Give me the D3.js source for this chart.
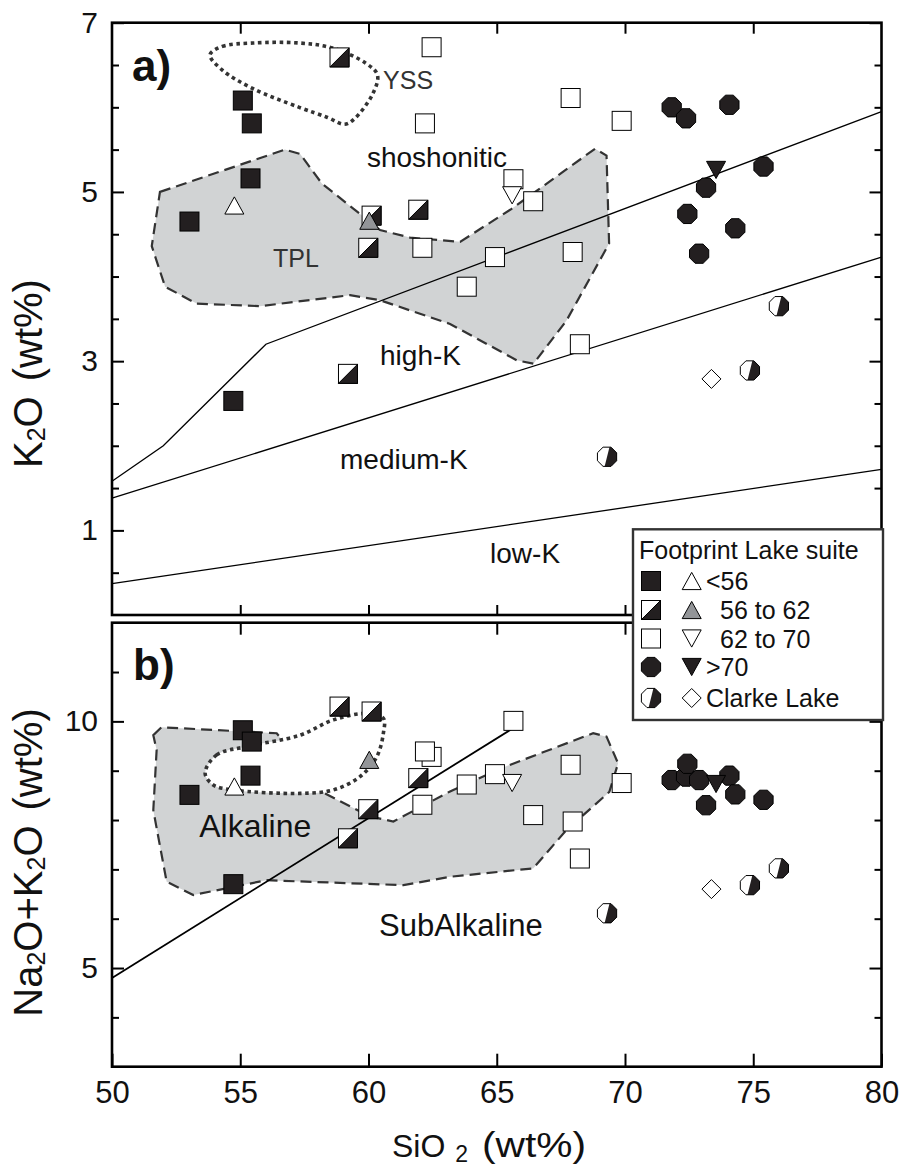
<!DOCTYPE html>
<html><head><meta charset="utf-8">
<script src="https://cdn.jsdelivr.net/npm/d3@7"></script>
<style>
html,body{margin:0;padding:0;background:#fff;}
svg{display:block;font-family:"Liberation Sans",Arial,Helvetica,sans-serif;}
</style></head><body>
<svg id="chart" width="906" height="1169"></svg>
<script>
// ---------------- DATA ----------------
const xDomain = [50, 80];
const yDomainA = [0, 7];
const yDomainB = [3, 12];
const xTickValues = [50, 55, 60, 65, 70, 75, 80];
const xInnerTicks = [55, 60, 65, 70, 75];
const k2oMajorTicks = [1, 3, 5, 7];
const k2oMinorTicks = [0.5, 1.5, 2, 2.5, 3.5, 4, 4.5, 5.5, 6, 6.5];
const alkMajorTicks = [5, 10];
const alkMinorTicks = [4, 6, 7, 8, 9, 11];

// Footprint Lake suite: <56 (black squares)
const lt56_SiO2 = [55.10, 55.45, 55.40, 53.02, 54.73];
const lt56_K2O  = [6.08, 5.81, 5.16, 4.65, 2.53];
const lt56_Alk  = [9.82, 9.59, 8.90, 8.51, 6.70];
// 56 to 62 (half squares)
const mid_SiO2 = [58.87, 60.12, 59.99, 59.20, 61.94];
const mid_K2O  = [6.59, 4.72, 4.34, 2.85, 4.79];
const mid_Alk  = [10.30, 10.20, 8.22, 7.63, 8.85];
// 62 to 70 (open squares)
const int_SiO2 = [62.46, 62.20, 62.10, 67.88, 69.87, 65.65, 66.42, 64.93, 63.83, 67.96, 68.24];
const int_K2O  = [6.71, 5.81, 4.34, 6.11, 5.84, 5.15, 4.89, 4.23, 3.88, 4.29, 3.20];
const int_Alk  = [9.28, 9.39, 8.31, 9.12, 8.75, 10.01, 8.10, 8.93, 8.72, 7.97, 7.22];
// >70 (black octagons)
const hi_SiO2 = [71.82, 72.38, 74.07, 75.40, 73.16, 72.43, 74.30, 72.89];
const hi_K2O  = [6.00, 5.87, 6.03, 5.30, 5.05, 4.74, 4.57, 4.27];
const hi_Alk  = [8.81, 8.88, 8.90, 8.41, 8.30, 9.14, 8.52, 8.81];
// triangles: <56 open up, 56-62 grey up, 62-70 open down, >70 black down
const triOpenUp_SiO2 = [54.77], triOpenUp_K2O = [4.84], triOpenUp_Alk = [8.68];
const triGrey_SiO2 = [60.03], triGrey_K2O = [4.66], triGrey_Alk = [9.22];
const triOpenDown_SiO2 = [65.60], triOpenDown_K2O = [4.96], triOpenDown_Alk = [8.75];
const triBlackDown_SiO2 = [73.55], triBlackDown_K2O = [5.26], triBlackDown_Alk = [8.73];
// Clarke Lake
const clarkeHalf_SiO2 = [76.00, 74.87, 69.30];
const clarkeHalf_K2O  = [3.65, 2.89, 1.87];
const clarkeHalf_Alk  = [7.02, 6.68, 6.11];
const clarkeDia_SiO2 = [73.37], clarkeDia_K2O = [2.79], clarkeDia_Alk = [6.60];

// Boundary lines (panel a)
const shoLine_SiO2 = [50, 52, 56, 80];
const shoLine_K2O  = [1.58, 2.00, 3.20, 5.95];
const highKLine_SiO2 = [50, 80];
const highKLine_K2O  = [1.38, 4.23];
const lowKLine_SiO2 = [50, 80];
const lowKLine_K2O  = [0.37, 1.72];
// Alkaline / subalkaline line (panel b)
const alkLine_SiO2 = [50, 65.6];
const alkLine_Alk  = [4.80, 9.85];

// Fields
const tplA_SiO2 = [51.87,56.74,57.33,58.18,60.45,61.62,63.57,65.58,68.83,69.28,69.38,67.72,66.43,65.78,63.18,60.45,59.28,55.77,53.30,52.07,51.55];
const tplA_K2O  = [5.00,5.50,5.45,5.10,4.55,4.46,4.41,4.80,5.51,5.43,4.39,3.48,2.97,3.01,3.44,3.72,3.78,3.65,3.68,3.88,4.36];
const yssA_SiO2 = [53.82,54.30,55.50,57.30,58.60,59.90,60.35,60.15,59.40,59.05,58.40,57.30,55.50,54.30];
const yssA_K2O  = [6.62,6.72,6.76,6.76,6.70,6.52,6.38,6.15,5.85,5.80,5.88,6.00,6.22,6.44];
const tplB_SiO2 = [51.61,51.93,56.42,58.30,60.06,60.97,63.18,65.32,68.76,69.28,69.73,69.39,67.72,66.42,63.18,61.36,56.02,53.17,52.13,51.61,51.74];
const tplB_Alk  = [9.72,9.88,9.76,8.54,8.07,7.97,8.58,9.08,9.76,9.69,9.15,8.57,7.80,7.02,6.85,6.68,6.78,6.48,6.75,8.20,9.42];
const yssB_SiO2 = [53.63,54.08,55.25,57.33,58.63,59.93,60.58,60.58,60.32,59.67,58.63,57.33,54.73,53.95];
const yssB_Alk  = [8.95,9.32,9.49,9.72,10.03,10.16,10.06,9.76,9.28,8.88,8.61,8.54,8.61,8.71];

const legendTitle = "Footprint Lake suite";
const legendLabels = ["<56", "56 to 62", "62 to 70", ">70", "Clarke Lake"];

// ---------------- STYLE ----------------
const BLACK = "#231f20", GREY_TRI = "#939598", GREY_FIELD = "#d1d3d4", DARK = "#333";
const X0 = 112, X1 = 881.5;
const A_TOP = 22.7, A_BOT = 615, B_TOP = 622.7, B_BOT = 1066.7;

const svg = d3.select("#chart");
const x = d3.scaleLinear().domain(xDomain).range([X0, X1]);
const yA = d3.scaleLinear().domain(yDomainA).range([A_BOT, A_TOP]);
const yB = d3.scaleLinear().domain(yDomainB).range([B_BOT, B_TOP]);

const R = 10.4;
const octPts = d3.range(8).map(i => {
  const a = (22.5 + 45 * i) * Math.PI / 180;
  return [R * Math.cos(a), R * Math.sin(a)];
});
svg.append("defs").append("clipPath").attr("id", "octClip")
  .append("polygon").attr("points", octPts.map(p => p.join(",")).join(" "));

function marker(sel, type, cx, cy) {
  const g = sel.append("g").attr("transform", `translate(${cx},${cy})`);
  const s = 9.5, th = 8.6;
  const sw = 1;
  if (type === "sqBlack") {
    g.append("rect").attr("x", -s).attr("y", -s).attr("width", 2*s).attr("height", 2*s)
      .attr("fill", BLACK).attr("stroke", "#000").attr("stroke-width", sw);
  } else if (type === "sqHalf") {
    g.append("rect").attr("x", -s).attr("y", -s).attr("width", 2*s).attr("height", 2*s)
      .attr("fill", "#fff").attr("stroke", "#000").attr("stroke-width", sw);
    g.append("path").attr("d", `M${s},${-s}L${s},${s}L${-s},${s}Z`).attr("fill", BLACK)
      .attr("stroke", "#000").attr("stroke-width", sw);
  } else if (type === "sqWhite") {
    g.append("rect").attr("x", -s).attr("y", -s).attr("width", 2*s).attr("height", 2*s)
      .attr("fill", "#fff").attr("stroke", "#000").attr("stroke-width", sw);
  } else if (type === "oct") {
    g.append("polygon").attr("points", octPts.map(p => p.join(",")).join(" "))
      .attr("fill", BLACK).attr("stroke", "#000").attr("stroke-width", sw);
  } else if (type === "octHalf") {
    g.append("polygon").attr("points", octPts.map(p => p.join(",")).join(" "))
      .attr("fill", "#fff");
    g.append("polygon").attr("points", "3,-12 13,-12 13,12 -3,12")
      .attr("fill", BLACK).attr("clip-path", "url(#octClip)");
    g.append("polygon").attr("points", octPts.map(p => p.join(",")).join(" "))
      .attr("fill", "none").attr("stroke", "#000").attr("stroke-width", sw);
  } else if (type === "triUpWhite" || type === "triUpGrey") {
    g.append("polygon").attr("points", `0,${-th} ${s},${th} ${-s},${th}`)
      .attr("fill", type === "triUpGrey" ? GREY_TRI : "#fff").attr("stroke", "#000").attr("stroke-width", sw);
  } else if (type === "triDownWhite" || type === "triDownBlack") {
    g.append("polygon").attr("points", `0,${th} ${s},${-th} ${-s},${-th}`)
      .attr("fill", type === "triDownBlack" ? BLACK : "#fff").attr("stroke", "#000").attr("stroke-width", sw);
  } else if (type === "diamond") {
    g.append("polygon").attr("points", `0,${-s} ${s},0 0,${s} ${-s},0`)
      .attr("fill", "#fff").attr("stroke", "#000").attr("stroke-width", sw);
  }
}

function zip(a, b) { return a.map((v, i) => [v, b[i]]); }

function drawPanel(y, cols, polys, lines, labels) {
  const g = svg.append("g");
  // TPL field
  g.append("path").attr("d", d3.line().x(d => x(d[0])).y(d => y(d[1])).curve(d3.curveLinearClosed)(polys.tpl))
    .attr("fill", GREY_FIELD).attr("stroke", DARK).attr("stroke-width", 2.2)
    .attr("stroke-dasharray", "11,6");
  // YSS field
  g.append("path").attr("d", d3.line().x(d => x(d[0])).y(d => y(d[1])).curve(d3.curveCatmullRomClosed.alpha(0.5))(polys.yss))
    .attr("fill", "#fff").attr("stroke", DARK).attr("stroke-width", 3.6)
    .attr("stroke-dasharray", "3.6,3.6");
  // boundary lines
  lines.forEach(l => {
    g.append("path").attr("d", d3.line().x(d => x(d[0])).y(d => y(d[1]))(l.pts))
      .attr("fill", "none").attr("stroke", "#000").attr("stroke-width", l.w);
  });
  // labels
  labels.forEach(t => {
    g.append("text").attr("x", x(t.x)).attr("y", y(t.y)).text(t.text)
      .attr("font-size", t.size).attr("font-weight", t.bold ? "bold" : "normal")
      .attr("fill", t.color || "#111");
  });
  // markers
  const mg = g.append("g");
  cols.forEach(c => c.xs.forEach((xv, i) => marker(mg, c.type, x(xv), y(c.ys[i]))));
}

// ---------- Panel a ----------
drawPanel(yA, [
  {type: "sqBlack", xs: lt56_SiO2, ys: lt56_K2O},
  {type: "sqHalf", xs: mid_SiO2, ys: mid_K2O},
  {type: "sqWhite", xs: int_SiO2, ys: int_K2O},
  {type: "oct", xs: hi_SiO2, ys: hi_K2O},
  {type: "triUpWhite", xs: triOpenUp_SiO2, ys: triOpenUp_K2O},
  {type: "triUpGrey", xs: triGrey_SiO2, ys: triGrey_K2O},
  {type: "triDownWhite", xs: triOpenDown_SiO2, ys: triOpenDown_K2O},
  {type: "triDownBlack", xs: triBlackDown_SiO2, ys: triBlackDown_K2O},
  {type: "octHalf", xs: clarkeHalf_SiO2, ys: clarkeHalf_K2O},
  {type: "diamond", xs: clarkeDia_SiO2, ys: clarkeDia_K2O}
], {tpl: zip(tplA_SiO2, tplA_K2O), yss: zip(yssA_SiO2, yssA_K2O)}, [
  {pts: zip(shoLine_SiO2, shoLine_K2O), w: 1.3},
  {pts: zip(highKLine_SiO2, highKLine_K2O), w: 1.3},
  {pts: zip(lowKLine_SiO2, lowKLine_K2O), w: 1.3}
], [
  {text: "a)", x: 50.78, y: 6.31, size: 44, bold: true},
  {text: "YSS", x: 60.57, y: 6.22, size: 25, color: "#333"},
  {text: "shoshonitic", x: 59.94, y: 5.29, size: 28},
  {text: "TPL", x: 56.28, y: 4.11, size: 25, color: "#333"},
  {text: "high-K", x: 60.45, y: 2.95, size: 28},
  {text: "medium-K", x: 58.89, y: 1.73, size: 28},
  {text: "low-K", x: 64.74, y: 0.61, size: 28}
]);

// ---------- Panel b ----------
drawPanel(yB, [
  {type: "sqBlack", xs: lt56_SiO2, ys: lt56_Alk},
  {type: "sqHalf", xs: mid_SiO2, ys: mid_Alk},
  {type: "sqWhite", xs: int_SiO2, ys: int_Alk},
  {type: "oct", xs: hi_SiO2, ys: hi_Alk},
  {type: "triUpWhite", xs: triOpenUp_SiO2, ys: triOpenUp_Alk},
  {type: "triUpGrey", xs: triGrey_SiO2, ys: triGrey_Alk},
  {type: "triDownWhite", xs: triOpenDown_SiO2, ys: triOpenDown_Alk},
  {type: "triDownBlack", xs: triBlackDown_SiO2, ys: triBlackDown_Alk},
  {type: "octHalf", xs: clarkeHalf_SiO2, ys: clarkeHalf_Alk},
  {type: "diamond", xs: clarkeDia_SiO2, ys: clarkeDia_Alk}
], {tpl: zip(tplB_SiO2, tplB_Alk), yss: zip(yssB_SiO2, yssB_Alk)}, [
  {pts: zip(alkLine_SiO2, alkLine_Alk), w: 1.8}
], [
  {text: "b)", x: 50.82, y: 10.84, size: 44, bold: true},
  {text: "Alkaline", x: 53.40, y: 7.66, size: 32},
  {text: "SubAlkaline", x: 60.41, y: 5.64, size: 31}
]);

// ---------- Axes & frames ----------
function styleAxis(sel, fs) {
  sel.select(".domain").remove();
  sel.attr("font-family", null).attr("font-size", fs || 30);
  sel.selectAll("line").attr("stroke", "#000").attr("stroke-width", 2);
  sel.selectAll("text").attr("fill", "#111");
}
function yAxes(y, major, minor) {
  const defs = [
    {fn: d3.axisLeft, tx: X0, vals: major, len: 12, labels: true},
    {fn: d3.axisLeft, tx: X0, vals: minor, len: 7, labels: false},
    {fn: d3.axisRight, tx: X1, vals: major, len: 12, labels: false},
    {fn: d3.axisRight, tx: X1, vals: minor, len: 7, labels: false}
  ];
  defs.forEach(d => {
    const ax = d.fn(y).tickValues(d.vals).tickSizeInner(-d.len).tickSizeOuter(0).tickPadding(14)
      .tickFormat(d.labels ? d3.format("d") : "");
    svg.append("g").attr("transform", `translate(${d.tx},0)`).call(ax).call(styleAxis);
  });
}
yAxes(yA, k2oMajorTicks, k2oMinorTicks);
yAxes(yB, alkMajorTicks, alkMinorTicks);

svg.append("g").attr("transform", `translate(0,${A_TOP})`)
  .call(d3.axisTop(x).tickValues(xInnerTicks).tickSizeInner(-11).tickSizeOuter(0).tickFormat("")).call(styleAxis);
svg.append("g").attr("transform", `translate(0,${A_BOT})`)
  .call(d3.axisBottom(x).tickValues(xInnerTicks).tickSizeInner(-10).tickSizeOuter(0).tickFormat("")).call(styleAxis);
svg.append("g").attr("transform", `translate(0,${B_TOP})`)
  .call(d3.axisTop(x).tickValues(xInnerTicks).tickSizeInner(-12).tickSizeOuter(0).tickFormat("")).call(styleAxis);
svg.append("g").attr("transform", `translate(0,${B_BOT})`)
  .call(d3.axisBottom(x).tickValues(xTickValues).tickSizeInner(-13).tickSizeOuter(0).tickPadding(14)
    .tickFormat(d3.format("d"))).call(s => styleAxis(s, 31));

svg.append("rect").attr("x", X0).attr("y", A_TOP).attr("width", X1 - X0).attr("height", A_BOT - A_TOP)
  .attr("fill", "none").attr("stroke", "#000").attr("stroke-width", 2.6);
svg.append("rect").attr("x", X0).attr("y", B_TOP).attr("width", X1 - X0).attr("height", B_BOT - B_TOP)
  .attr("fill", "none").attr("stroke", "#000").attr("stroke-width", 2.6);

// ---------- Axis titles ----------
const tA = svg.append("text").attr("transform", "translate(42,468) rotate(-90)").attr("font-size", 40).attr("fill", "#111");
tA.append("tspan").text("K");
tA.append("tspan").text("2").attr("font-size", 25).attr("dy", 3);
tA.append("tspan").text("O").attr("dy", -3);
tA.append("tspan").text("(wt%)").attr("dx", 15);

const tB = svg.append("text").attr("transform", "translate(42,1016.7) rotate(-90)").attr("font-size", 40).attr("fill", "#111");
tB.append("tspan").text("Na");
tB.append("tspan").text("2").attr("font-size", 25).attr("dy", 3);
tB.append("tspan").text("O+K").attr("dy", -3);
tB.append("tspan").text("2").attr("font-size", 25).attr("dy", 3);
tB.append("tspan").text("O").attr("dy", -3);
tB.append("tspan").text("(wt%)").attr("dx", 15);

const X_TITLE_BASE = 1157;
const tX = svg.append("text").attr("x", 392).attr("y", X_TITLE_BASE).attr("font-size", 32).attr("fill", "#111");
tX.append("tspan").text("SiO");
tX.append("tspan").text("2").attr("font-size", 23).attr("dx", 10).attr("dy", 5);
svg.append("text").attr("x", 482).attr("y", X_TITLE_BASE).attr("font-size", 35).attr("fill", "#111")
  .attr("textLength", 104).attr("lengthAdjust", "spacingAndGlyphs").text("(wt%)");

// ---------- Legend ----------
const lg = svg.append("g");
lg.append("rect").attr("x", 633).attr("y", 529.3).attr("width", 250).attr("height", 190.7)
  .attr("fill", "#fff").attr("stroke", DARK).attr("stroke-width", 2.4);
lg.append("text").attr("x", 639).attr("y", 559.3).attr("font-size", 25).attr("fill", "#111").text(legendTitle);
const legSym1 = ["sqBlack", "sqHalf", "sqWhite", "oct", "octHalf"];
const legSym2 = ["triUpWhite", "triUpGrey", "triDownWhite", "triDownBlack", "diamond"];
const legRowY = [581, 610, 638.5, 667, 698];
const legTextX = [706, 720, 720, 706, 706];
legendLabels.forEach((lab, i) => {
  marker(lg, legSym1[i], 651, legRowY[i]);
  marker(lg, legSym2[i], 691.7, legRowY[i]);
  lg.append("text").attr("x", legTextX[i]).attr("y", legRowY[i] + 9).attr("font-size", 25)
    .attr("fill", "#111").text(lab);
});
</script>
</body></html>
